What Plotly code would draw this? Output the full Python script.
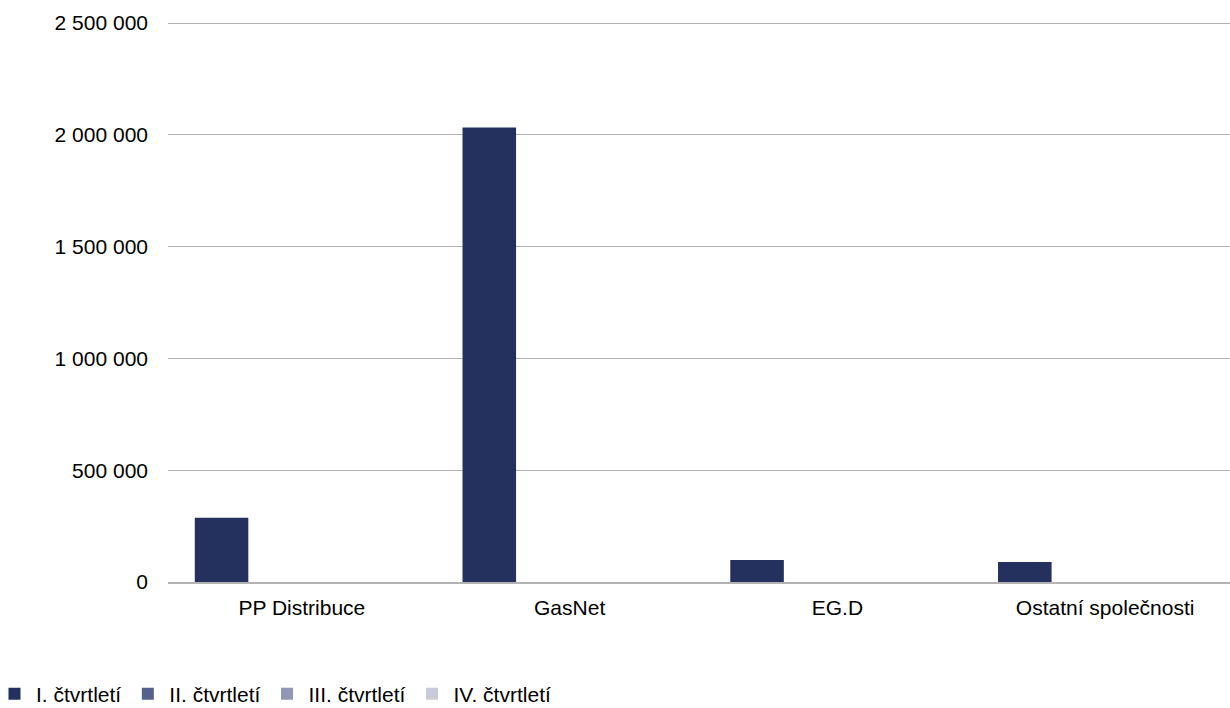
import plotly.graph_objects as go

categories = ["PP Distribuce", "GasNet", "EG.D", "Ostatní společnosti"]
series_names = ["I. čtvrtletí", "II. čtvrtletí", "III. čtvrtletí", "IV. čtvrtletí"]
q1 = [287000, 2033000, 98000, 90000]
q2 = [0, 0, 0, 0]
q3 = [0, 0, 0, 0]
q4 = [0, 0, 0, 0]
series_values = [q1, q2, q3, q4]
colors = ["#24305E", "#56608C", "#9298B4", "#C9CCD8"]
tick_vals = [0, 500000, 1000000, 1500000, 2000000, 2500000]

fig = go.Figure()
for name, vals, c in zip(series_names, series_values, colors):
    fig.add_trace(go.Bar(x=categories, y=vals, name=name, marker_color=c,
                         marker_line_width=0))

W, H = 1239, 708
L, R, T, B = 168, 0, 22, 126
fig.update_layout(
    width=W, height=H,
    margin=dict(l=L, r=R, t=T, b=B, autoexpand=False),
    plot_bgcolor="white", paper_bgcolor="white",
    barmode="group", bargap=0.2, bargroupgap=0,
    separators=", ",
    font=dict(family="Liberation Sans, Arial, sans-serif", size=21, color="#000000"),
    legend=dict(orientation="h", x=(-L - 7) / (W - L - R), xanchor="left",
                y=-0.2, yanchor="middle", font=dict(size=21),
                itemwidth=33, traceorder="normal"),
    showlegend=True,
)
fig.update_yaxes(range=[0, 2505000], tickvals=tick_vals, tickformat=",d",
                 showgrid=True, gridcolor="#B3B3B3", gridwidth=1,
                 zeroline=False, showline=False, ticks="", ticklabelstandoff=19,
                 tickfont=dict(size=21))
fig.update_xaxes(showline=True, linecolor="#B3B3B3", linewidth=2, ticks="",
                 ticklabelstandoff=6, tickfont=dict(size=21))

fig.write_html("out.html", config={"displayModeBar": False},
               post_script="document.body.style.margin='0px';document.body.style.overflow='hidden';")
